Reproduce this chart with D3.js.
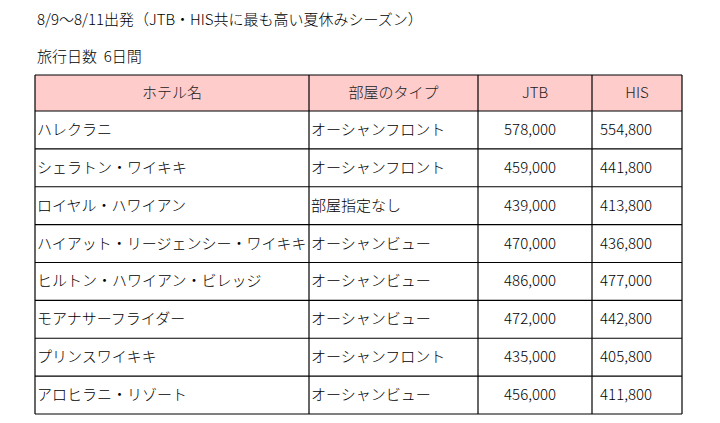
<!DOCTYPE html>
<html><head><meta charset="utf-8">
<script src="https://cdn.jsdelivr.net/npm/d3@7"></script>
<style>body{margin:0;background:#fff}</style></head>
<body><svg id="c" width="720" height="423"></svg>
<script>
const title = "8/9〜8/11出発（JTB・HIS共に最も高い夏休みシーズン）";
const subtitle = "旅行日数  6日間";
const headers = ["ホテル名","部屋のタイプ","JTB","HIS"];
const hotels = ["ハレクラニ","シェラトン・ワイキキ","ロイヤル・ハワイアン","ハイアット・リージェンシー・ワイキキ","ヒルトン・ハワイアン・ビレッジ","モアナサーフライダー","プリンスワイキキ","アロヒラニ・リゾート"];
const rooms = ["オーシャンフロント","オーシャンフロント","部屋指定なし","オーシャンビュー","オーシャンビュー","オーシャンビュー","オーシャンフロント","オーシャンビュー"];
const jtb = [578000,459000,439000,470000,486000,472000,435000,456000];
const his = [554800,441800,413800,436800,477000,442800,405800,411800];

const svg = d3.select("#c");
const font = "'Noto Sans CJK JP', sans-serif";
const fw = 300;
svg.append("text").attr("x",37).attr("y",25).attr("font-family",font).attr("font-weight",fw).attr("font-size",15).text(title);
svg.append("text").attr("x",37).attr("y",62).attr("font-family",font).attr("font-weight",fw).attr("font-size",15).attr("xml:space","preserve").text(subtitle);

const colEdges = [35,309,478,592,682];
const headerTop = 75, headerBottom = 111, bottom = 414;
const y = d3.scaleBand().domain(d3.range(hotels.length)).range([headerBottom,bottom]);
const fmt = d3.format(",");

svg.append("rect").attr("x",colEdges[0]).attr("y",headerTop).attr("width",colEdges[4]-colEdges[0]).attr("height",headerBottom-headerTop).attr("fill","#ffcccc");
headers.forEach((h,i)=>{
  svg.append("text").attr("x",(colEdges[i]+colEdges[i+1])/2).attr("y",(headerTop+headerBottom)/2+5)
    .attr("text-anchor","middle").attr("font-family",font).attr("font-weight",fw).attr("font-size",15).attr("fill","#222").text(h);
});
const rows = svg.selectAll("g.row").data(hotels.map((h,i)=>({h,r:rooms[i],j:jtb[i],s:his[i],i}))).join("g")
  .attr("font-family",font).attr("font-weight",fw).attr("font-size",15);
rows.append("text").attr("x",colEdges[0]+2).attr("y",d=>y(d.i)+y.bandwidth()/2+5).text(d=>d.h);
rows.append("text").attr("x",colEdges[1]+2).attr("y",d=>y(d.i)+y.bandwidth()/2+5).text(d=>d.r);
rows.append("text").attr("x",556).attr("y",d=>y(d.i)+y.bandwidth()/2+5).attr("text-anchor","end").text(d=>fmt(d.j));
rows.append("text").attr("x",652).attr("y",d=>y(d.i)+y.bandwidth()/2+5).attr("text-anchor","end").text(d=>fmt(d.s));

const g = svg.append("g").attr("stroke","#000").attr("stroke-width",1.2);
const hy = [headerTop, headerBottom, ...hotels.map((_,i)=>y(i)+y.bandwidth())];
hy.forEach(v=>g.append("line").attr("x1",colEdges[0]).attr("x2",colEdges[4]).attr("y1",v).attr("y2",v));
colEdges.forEach(v=>g.append("line").attr("x1",v).attr("x2",v).attr("y1",headerTop).attr("y2",bottom));
</script></body></html>
